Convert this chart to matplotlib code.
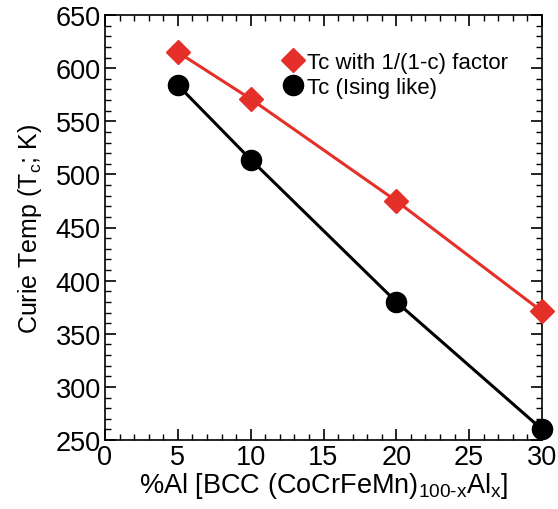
import matplotlib
matplotlib.use("Agg")
import matplotlib.pyplot as plt
from matplotlib.ticker import MultipleLocator
from matplotlib.lines import Line2D

# data
al_pct = [5, 10, 20, 30]
tc_factor = [615, 571, 475, 371]
tc_ising = [584, 514, 380, 260]

red = '#e5302a'

plt.rcParams['font.family'] = ['Liberation Sans', 'DejaVu Sans']
plt.rcParams['mathtext.fontset'] = 'custom'
plt.rcParams['mathtext.rm'] = 'Liberation Sans'
plt.rcParams['mathtext.it'] = 'Liberation Sans'

fig = plt.figure(figsize=(5.58, 5.10), dpi=100)
ax = fig.add_axes([105 / 558, 69 / 510, 437 / 558, 425 / 510])

ax.plot(al_pct, tc_factor, color=red, lw=2.2, marker='D', ms=12.5,
        clip_on=False, zorder=3)
ax.plot(al_pct, tc_ising, color='black', lw=2.2, marker='o', ms=14.5,
        clip_on=False, zorder=3)

ax.set_xlim(0, 30)
ax.set_ylim(250, 650)
ax.xaxis.set_major_locator(MultipleLocator(5))
ax.xaxis.set_minor_locator(MultipleLocator(1))
ax.yaxis.set_major_locator(MultipleLocator(50))
ax.yaxis.set_minor_locator(MultipleLocator(10))
ax.tick_params(which='both', direction='in', top=True, right=True, labelsize=19.5)
ax.tick_params(which='major', length=8, width=1.2, pad=3)
ax.tick_params(which='minor', length=4, width=1)
for s in ax.spines.values():
    s.set_linewidth(1.2)

ax.set_xlabel(r'%Al [BCC (CoCrFeMn)$_{\mathrm{100\text{-}x}}$Al$_{\mathrm{x}}$]', fontsize=19.5, labelpad=0)
ax.set_ylabel(r'Curie Temp (T$_{\mathrm{c}}$; K)', fontsize=18, labelpad=8)

handles = [
    Line2D([], [], ls='none', marker='D', ms=12.5, color=red),
    Line2D([], [], ls='none', marker='o', ms=14.5, color='black'),
]
ax.legend(handles, ['Tc with 1/(1-c) factor', 'Tc (Ising like)'],
          loc='upper left', bbox_to_anchor=(0.385, 0.935), frameon=False,
          fontsize=16, handletextpad=0.1, handlelength=1.0,
          borderaxespad=0, labelspacing=0.2)

fig.savefig('out.png', dpi=100)
